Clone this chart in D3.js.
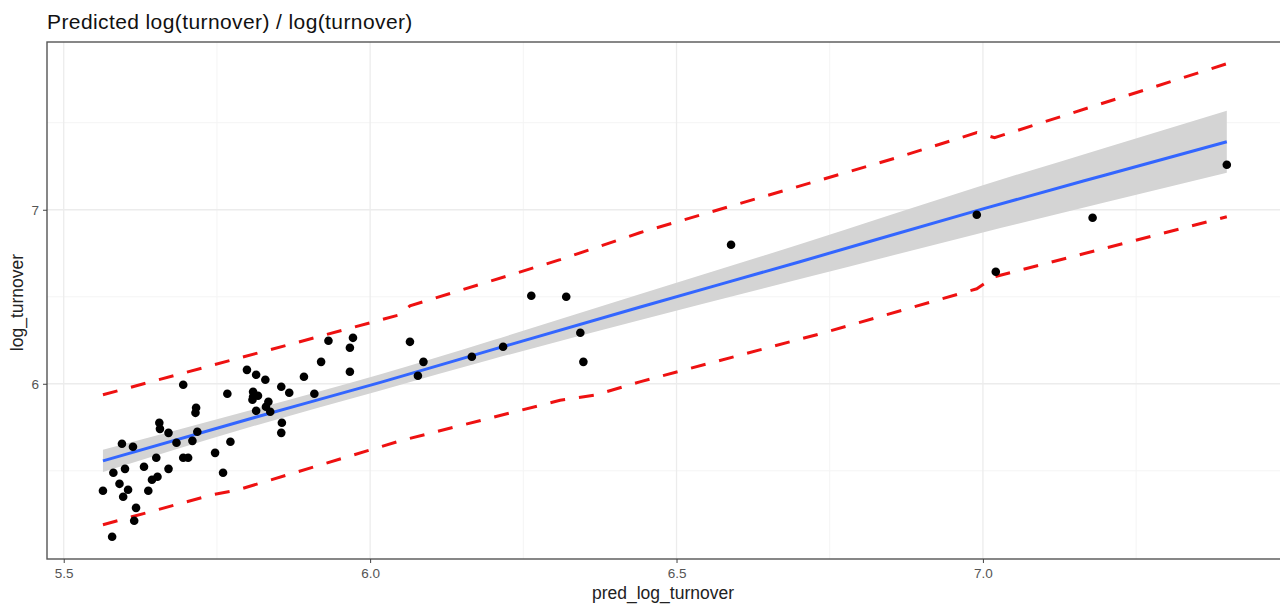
<!DOCTYPE html>
<html>
<head>
<meta charset="utf-8">
<script src="https://cdn.jsdelivr.net/npm/d3@7"></script>
<style>
  body { margin: 0; background: #fff; }
  svg { display: block; font-family: "Liberation Sans", Arial, sans-serif; }
</style>
</head>
<body>
<svg id="chart" width="1280" height="604"></svg>
<script>
// observed points: predicted vs actual log(turnover)
const predX = [5.564, 5.579, 5.581, 5.591, 5.595, 5.597, 5.600, 5.605, 5.613, 5.615,
  5.618, 5.631, 5.638, 5.644, 5.651, 5.653, 5.656, 5.657, 5.671, 5.671,
  5.684, 5.695, 5.695, 5.703, 5.710, 5.716, 5.715, 5.718, 5.747, 5.760,
  5.767, 5.772, 5.799, 5.809, 5.809, 5.817, 5.808, 5.814, 5.829, 5.834,
  5.830, 5.814, 5.837, 5.855, 5.856, 5.855, 5.868, 5.892, 5.909, 5.920,
  5.932, 5.967, 5.972, 5.967, 6.065, 6.078, 6.087, 6.166, 6.217, 6.263,
  6.320, 6.343, 6.348, 6.589, 6.990, 7.021, 7.179, 7.398]
const logTurnover = [5.385, 5.121, 5.489, 5.425, 5.655, 5.351, 5.511, 5.391, 5.638, 5.213,
  5.287, 5.523, 5.385, 5.448, 5.575, 5.466, 5.776, 5.741, 5.718, 5.511,
  5.661, 5.994, 5.575, 5.575, 5.672, 5.862, 5.833, 5.724, 5.603, 5.489,
  5.943, 5.667, 6.080, 5.954, 5.925, 5.931, 5.908, 6.052, 6.023, 5.897,
  5.868, 5.845, 5.839, 5.983, 5.776, 5.718, 5.948, 6.040, 5.943, 6.126,
  6.247, 6.207, 6.264, 6.069, 6.241, 6.046, 6.126, 6.155, 6.213, 6.506,
  6.500, 6.293, 6.126, 6.799, 6.971, 6.644, 6.954, 7.259]

// linear fit and its confidence band
const fitX = [5.564, 5.8, 6.017, 6.2, 6.441, 6.7, 7.0, 7.2, 7.398]
const fitY = [5.557, 5.795, 6.008, 6.196, 6.441, 6.700, 7.005, 7.200, 7.391]
const bandLow = [5.493, 5.747, 5.962, 6.142, 6.366, 6.600, 6.869, 7.043, 7.213]
const bandHigh = [5.621, 5.843, 6.054, 6.250, 6.516, 6.800, 7.141, 7.357, 7.569]

// prediction interval (red dashed)
const upperX = [5.564, 6.049, 6.065, 6.310, 6.440, 6.865, 6.990, 7.019, 7.398]
const upperY = [5.937, 6.397, 6.448, 6.713, 6.868, 7.305, 7.443, 7.414, 7.839]
const lowerX = [5.564, 5.742, 5.785, 6.049, 6.310, 6.367, 6.440, 6.734, 6.990, 7.019, 7.398]
const lowerY = [5.190, 5.362, 5.391, 5.672, 5.905, 5.935, 6.011, 6.287, 6.546, 6.615, 6.960]

const xMajor = [5.5, 6.0, 6.5, 7.0], xMinor = [5.75, 6.25, 6.75, 7.25]
const yMajor = [6, 7], yMinor = [5.5, 6.5, 7.5]

const svg = d3.select("#chart")
const pLeft = 47, pRight = 1283, pTop = 42, pBottom = 559

const x = d3.scaleLinear().domain([5.4727, 7.4897]).range([pLeft, pRight])
const y = d3.scaleLinear().domain([4.993, 7.964]).range([pBottom, pTop])

const g = svg.append("g")

// grid
g.selectAll(".xmin").data(xMinor).enter().append("line")
  .attr("x1", d => x(d)).attr("x2", d => x(d)).attr("y1", pTop).attr("y2", pBottom)
  .attr("stroke", "#f4f4f4").attr("stroke-width", 1)
g.selectAll(".ymin").data(yMinor).enter().append("line")
  .attr("x1", pLeft).attr("x2", pRight).attr("y1", d => y(d)).attr("y2", d => y(d))
  .attr("stroke", "#f4f4f4").attr("stroke-width", 1)
g.selectAll(".xmaj").data(xMajor).enter().append("line")
  .attr("x1", d => x(d)).attr("x2", d => x(d)).attr("y1", pTop).attr("y2", pBottom)
  .attr("stroke", "#ececec").attr("stroke-width", 1.3)
g.selectAll(".ymaj").data(yMajor).enter().append("line")
  .attr("x1", pLeft).attr("x2", pRight).attr("y1", d => y(d)).attr("y2", d => y(d))
  .attr("stroke", "#ececec").attr("stroke-width", 1.3)

// confidence band + fit
const band = d3.area()
  .x((d, i) => x(fitX[i]))
  .y0((d, i) => y(bandLow[i]))
  .y1((d, i) => y(bandHigh[i]))
  .curve(d3.curveMonotoneX)
g.append("path").datum(fitX).attr("d", band).attr("fill", "#d4d4d4")

const fitLine = d3.line()
  .x((d, i) => x(fitX[i]))
  .y((d, i) => y(fitY[i]))
  .curve(d3.curveMonotoneX)
g.append("path").datum(fitX).attr("d", fitLine)
  .attr("fill", "none").attr("stroke", "#3366ff").attr("stroke-width", 3)

// prediction interval lines
const piLine = (xs, ys) => d3.line().x((d, i) => x(xs[i])).y((d, i) => y(ys[i]))(xs)
;[[upperX, upperY], [lowerX, lowerY]].forEach(([xs, ys]) => {
  g.append("path").attr("d", piLine(xs, ys))
    .attr("fill", "none").attr("stroke", "#ee1111").attr("stroke-width", 3)
    .attr("stroke-dasharray", "15,14")
})

// points
g.selectAll("circle").data(d3.range(predX.length)).enter().append("circle")
  .attr("cx", i => x(predX[i]))
  .attr("cy", i => y(logTurnover[i]))
  .attr("r", 4.3)
  .attr("fill", "#000")

// panel border
g.append("rect")
  .attr("x", pLeft).attr("y", pTop).attr("width", pRight - pLeft).attr("height", pBottom - pTop)
  .attr("fill", "none").attr("stroke", "#555").attr("stroke-width", 1.4)

// axes
const xAxis = svg.append("g").attr("transform", `translate(0,${pBottom})`)
  .call(d3.axisBottom(x).tickValues(xMajor).tickFormat(d3.format(".1f")).tickSize(4).tickPadding(5))
const yAxis = svg.append("g").attr("transform", `translate(${pLeft},0)`)
  .call(d3.axisLeft(y).tickValues(yMajor).tickFormat(d3.format("d")).tickSize(4).tickPadding(4))
;[xAxis, yAxis].forEach(a => {
  a.select(".domain").remove()
  a.selectAll(".tick line").attr("stroke", "#444")
  a.selectAll(".tick text").attr("fill", "#555").style("font-size", "13.5px")
    .style("font-family", "'Liberation Sans', Arial, sans-serif")
})

// titles
svg.append("text").attr("x", pLeft).attr("y", 29)
  .style("font-size", "21px").style("letter-spacing", "0.4px").attr("fill", "#111")
  .text("Predicted log(turnover) / log(turnover)")
svg.append("text").attr("x", (pLeft + pRight) / 2 - 2).attr("y", 599)
  .attr("text-anchor", "middle").style("font-size", "17.5px").attr("fill", "#222")
  .text("pred_log_turnover")
svg.append("text")
  .attr("transform", `translate(23,${(pTop + pBottom) / 2 + 2}) rotate(-90)`)
  .attr("text-anchor", "middle").style("font-size", "17.5px").attr("fill", "#222")
  .text("log_turnover")
</script>
</body>
</html>
